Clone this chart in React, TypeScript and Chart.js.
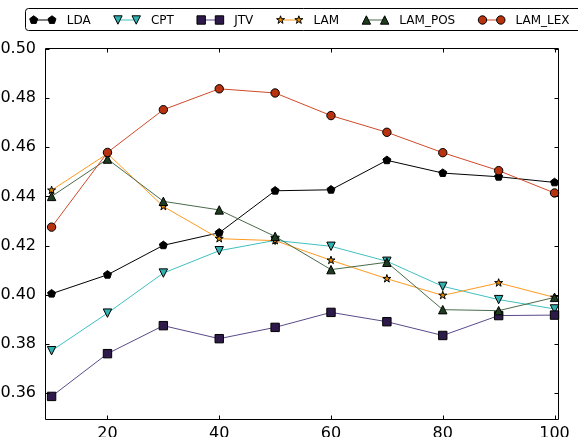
import React, { useEffect, useRef } from "react";
import { Chart, registerables } from "chart.js";

Chart.register(...registerables);

const xValues = [10, 20, 30, 40, 50, 60, 70, 80, 90, 100];
const seriesNames = ["LDA", "CPT", "JTV", "LAM", "LAM_POS", "LAM_LEX"];
const ldaValues = [0.4004, 0.4081, 0.4201, 0.4252, 0.4423, 0.4427, 0.4547, 0.4495, 0.448, 0.4457];
const cptValues = [0.3772, 0.3925, 0.4088, 0.4179, 0.4221, 0.4197, 0.4136, 0.4034, 0.398, 0.3942];
const jtvValues = [0.3586, 0.376, 0.3874, 0.3821, 0.3867, 0.3928, 0.389, 0.3834, 0.3915, 0.3917];
const lamValues = [0.4425, 0.4574, 0.4359, 0.4228, 0.422, 0.414, 0.4065, 0.3997, 0.4048, 0.3989];
const lamPosValues = [0.44, 0.4552, 0.438, 0.4345, 0.4237, 0.4102, 0.4132, 0.3939, 0.3935, 0.3989];
const lamLexValues = [0.4275, 0.4579, 0.4753, 0.4838, 0.4821, 0.4729, 0.4661, 0.4578, 0.4505, 0.4414];
const xTicks = [20, 40, 60, 80, 100];
const yTicks = [0.36, 0.38, 0.4, 0.42, 0.44, 0.46, 0.48, 0.5];

const seriesValues = [ldaValues, cptValues, jtvValues, lamValues, lamPosValues, lamLexValues];

type Shape = "pentagon" | "triDown" | "square" | "star" | "triUp" | "circle";
const seriesStyles: { line: string; fill: string; shape: Shape }[] = [
  { line: "#000000", fill: "#000000", shape: "pentagon" },
  { line: "#40c0c0", fill: "#30b0b0", shape: "triDown" },
  { line: "#5a4a8a", fill: "#2e1a4a", shape: "square" },
  { line: "#ff9a20", fill: "#e08a00", shape: "star" },
  { line: "#4a6a4a", fill: "#1e3d1e", shape: "triUp" },
  { line: "#d04a28", fill: "#b83210", shape: "circle" },
];

const MS = 8.4;
const FONT = "DejaVu Sans";

function drawMarker(ctx: CanvasRenderingContext2D, shape: Shape, x: number, y: number, size: number, fill: string) {
  const r = size / 2;
  ctx.beginPath();
  if (shape === "circle") {
    ctx.arc(x, y, r, 0, Math.PI * 2);
  } else if (shape === "square") {
    ctx.rect(x - r, y - r, size, size);
  } else if (shape === "triUp") {
    ctx.moveTo(x, y - r);
    ctx.lineTo(x - r, y + r);
    ctx.lineTo(x + r, y + r);
    ctx.closePath();
  } else if (shape === "triDown") {
    ctx.moveTo(x, y + r);
    ctx.lineTo(x - r, y - r);
    ctx.lineTo(x + r, y - r);
    ctx.closePath();
  } else if (shape === "pentagon") {
    for (let k = 0; k < 5; k++) {
      const a = -Math.PI / 2 + (k * 2 * Math.PI) / 5;
      const px = x + r * Math.cos(a);
      const py = y + r * Math.sin(a);
      if (k === 0) ctx.moveTo(px, py);
      else ctx.lineTo(px, py);
    }
    ctx.closePath();
  } else if (shape === "star") {
    for (let k = 0; k < 10; k++) {
      const a = -Math.PI / 2 + (k * Math.PI) / 5;
      const rr = k % 2 === 0 ? r : r * 0.381966;
      const px = x + rr * Math.cos(a);
      const py = y + rr * Math.sin(a);
      if (k === 0) ctx.moveTo(px, py);
      else ctx.lineTo(px, py);
    }
    ctx.closePath();
  }
  ctx.fillStyle = fill;
  ctx.fill();
  ctx.lineWidth = 1;
  ctx.strokeStyle = "#000000";
  ctx.stroke();
}

const markerPlugin = {
  id: "markers",
  afterDatasetDraw(chart: any, args: any) {
    const ctx = chart.ctx as CanvasRenderingContext2D;
    const st = seriesStyles[args.index];
    ctx.save();
    for (const el of args.meta.data) {
      drawMarker(ctx, st.shape, el.x, el.y, MS, st.fill);
    }
    ctx.restore();
  },
};

const framePlugin = {
  id: "frame",
  afterDatasetsDraw(chart: any) {
    const ctx = chart.ctx as CanvasRenderingContext2D;
    const { left, right, top, bottom } = chart.chartArea;
    const xs = chart.scales.x;
    const ys = chart.scales.y;
    const L = Math.round(left) - 0.5;
    const R = Math.round(right) - 0.5;
    const T = Math.round(top) - 0.5;
    const B = Math.round(bottom) - 0.5;
    ctx.save();
    ctx.strokeStyle = "#000000";
    ctx.lineWidth = 1;
    ctx.beginPath();
    ctx.rect(L, T, R - L, B - T);
    const tl = 4;
    for (const v of xTicks) {
      const px = Math.round(xs.getPixelForValue(v)) + 0.5;
      ctx.moveTo(px, B);
      ctx.lineTo(px, B - tl);
      ctx.moveTo(px, T);
      ctx.lineTo(px, T + tl);
    }
    for (const v of yTicks) {
      const py = Math.round(ys.getPixelForValue(v)) + 0.5;
      ctx.moveTo(L, py);
      ctx.lineTo(L + tl, py);
      ctx.moveTo(R, py);
      ctx.lineTo(R - tl, py);
    }
    ctx.stroke();
    ctx.restore();
  },
};

const legendPlugin = {
  id: "customLegend",
  afterDraw(chart: any) {
    const ctx = chart.ctx as CanvasRenderingContext2D;
    ctx.save();
    const boxL = 25.5;
    const boxT = 8.5;
    const boxB = 30.5;
    const boxR = 600;
    const rad = 3;
    ctx.beginPath();
    ctx.moveTo(boxL + rad, boxT);
    ctx.lineTo(boxR, boxT);
    ctx.lineTo(boxR, boxB);
    ctx.lineTo(boxL + rad, boxB);
    ctx.arcTo(boxL, boxB, boxL, boxB - rad, rad);
    ctx.lineTo(boxL, boxT + rad);
    ctx.arcTo(boxL, boxT, boxL + rad, boxT, rad);
    ctx.closePath();
    ctx.fillStyle = "#ffffff";
    ctx.fill();
    ctx.strokeStyle = "#000000";
    ctx.lineWidth = 1;
    ctx.stroke();

    const cy = 20;
    const handle = 18.3;
    const textPad = 14.7;
    const colGap = 27.3;
    ctx.font = `12px "${FONT}"`;
    ctx.textBaseline = "middle";
    ctx.textAlign = "left";
    let x = 33.7;
    chart.data.datasets.forEach((ds: any, i: number) => {
      const st = seriesStyles[i];
      ctx.beginPath();
      ctx.moveTo(x, cy);
      ctx.lineTo(x + handle, cy);
      ctx.strokeStyle = st.line;
      ctx.lineWidth = 1;
      ctx.stroke();
      drawMarker(ctx, st.shape, x, cy, MS, st.fill);
      drawMarker(ctx, st.shape, x + handle, cy, MS, st.fill);
      const tx = x + handle + textPad;
      ctx.fillStyle = "#000000";
      ctx.fillText(ds.label, tx, cy + 0.5);
      const w = ctx.measureText(ds.label).width;
      x = tx + w + colGap;
    });
    ctx.restore();
  },
};

export default function App() {
  const canvasRef = useRef<HTMLCanvasElement | null>(null);

  useEffect(() => {
    if (!canvasRef.current) return;
    const datasets = seriesNames.map((name, i) => ({
      label: name,
      data: xValues.map((xv, j) => ({ x: xv, y: seriesValues[i][j] })),
      borderColor: seriesStyles[i].line,
      backgroundColor: seriesStyles[i].fill,
      borderWidth: 1,
      pointRadius: 0,
      pointHoverRadius: 0,
      tension: 0,
      fill: false,
      order: seriesNames.length - 1 - i,
    }));
    const chart = new Chart(canvasRef.current, {
      type: "line",
      data: { datasets },
      options: {
        responsive: false,
        animation: false,
        events: [],
        layout: { padding: { top: 49, right: 19, left: 0, bottom: 0 } },
        plugins: { legend: { display: false }, tooltip: { enabled: false } },
        scales: {
          x: {
            type: "linear",
            min: 9,
            max: 100.8,
            grid: { display: false },
            border: { display: false },
            afterBuildTicks: (scale: any) => {
              scale.ticks = xTicks.map((v) => ({ value: v }));
            },
            afterFit: (scale: any) => {
              scale.height = 17;
            },
            ticks: {
              color: "#000000",
              font: { family: FONT, size: 16 },
              padding: -4,
              maxRotation: 0,
              autoSkip: false,
              callback: (v: any) => String(v),
            },
          },
          y: {
            type: "linear",
            min: 0.349,
            max: 0.5,
            grid: { display: false },
            border: { display: false },
            afterBuildTicks: (scale: any) => {
              scale.ticks = yTicks.map((v) => ({ value: v }));
            },
            afterFit: (scale: any) => {
              scale.width = 46;
            },
            ticks: {
              color: "#000000",
              font: { family: FONT, size: 16 },
              padding: 2,
              autoSkip: false,
              callback: (v: any) => Number(v).toFixed(2),
            },
          },
        },
      },
      plugins: [markerPlugin, framePlugin, legendPlugin],
    });
    return () => chart.destroy();
  }, []);

  return (
    <div style={{ position: "fixed", left: 0, top: 0, width: 578, height: 437, background: "#ffffff" }}>
      <canvas ref={canvasRef} width={578} height={437} style={{ display: "block", width: 578, height: 437 }} />
    </div>
  );
}
